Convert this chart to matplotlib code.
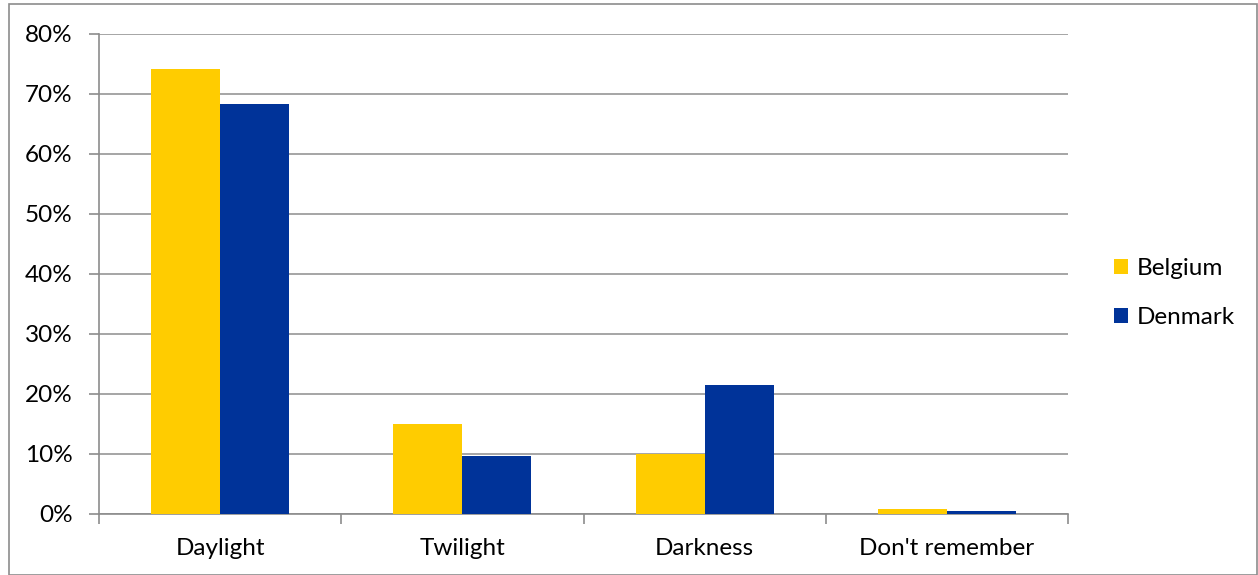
import matplotlib
matplotlib.use("Agg")
import matplotlib.pyplot as plt
import numpy as np
from matplotlib.patches import Rectangle

categories = ["Daylight", "Twilight", "Darkness", "Don't remember"]
belgium = [74.1, 15.0, 10.0, 0.8]
denmark = [68.4, 9.6, 21.5, 0.45]
series_names = ["Belgium", "Denmark"]
colors = ["#FFCC00", "#003399"]
yticks = [0, 10, 20, 30, 40, 50, 60, 70, 80]

plt.rcParams['font.family'] = ['Lato', 'DejaVu Sans']
FS = 17.5

W, H = 1258, 575
fig = plt.figure(figsize=(W/100, H/100), dpi=100)
fig.patches.append(Rectangle((9/W, 0), (W-9)/W - 1.5/W, 1 - 4/H, transform=fig.transFigure,
                             fill=False, edgecolor="#8c8c8c", linewidth=1.2))

ax = fig.add_axes([99/W, 1 - 514/H, (1068-99)/W, (514-34)/H])
x = np.arange(len(categories))
bw = 69/242
ax.bar(x - bw/2, belgium, bw, color=colors[0], label=series_names[0], zorder=3)
ax.bar(x + bw/2, denmark, bw, color=colors[1], label=series_names[1], zorder=3)

ax.set_xlim(-0.5, len(categories) - 0.5)
ax.set_ylim(0, 80)
ax.set_yticks(yticks)
ax.set_yticklabels([f"{v}%" for v in yticks], fontsize=FS)
ax.yaxis.grid(True, color="#969696", linewidth=1.2, zorder=0)
ax.set_axisbelow(True)

ax.set_xticks(x)
ax.set_xticklabels(categories, fontsize=FS)
ax.tick_params(axis='x', length=0, pad=17)
ax.set_xticks(np.arange(-0.5, len(categories)), minor=True)
ax.tick_params(axis='x', which='minor', length=7, color="#8c8c8c", width=1.2, direction='out')
ax.tick_params(axis='y', length=7, color="#8c8c8c", width=1.2, direction='out', pad=12)

for s in ["top", "right"]:
    ax.spines[s].set_visible(False)
for s in ["left", "bottom"]:
    ax.spines[s].set_color("#8c8c8c")
    ax.spines[s].set_linewidth(1.2)

leg = fig.legend(loc="center left", bbox_to_anchor=(1092/W, 1 - 293/H), frameon=False,
                 fontsize=FS, handlelength=0.6, handleheight=0.6, handletextpad=0.35,
                 labelspacing=1.15)

fig.savefig("out.png", dpi=100)
